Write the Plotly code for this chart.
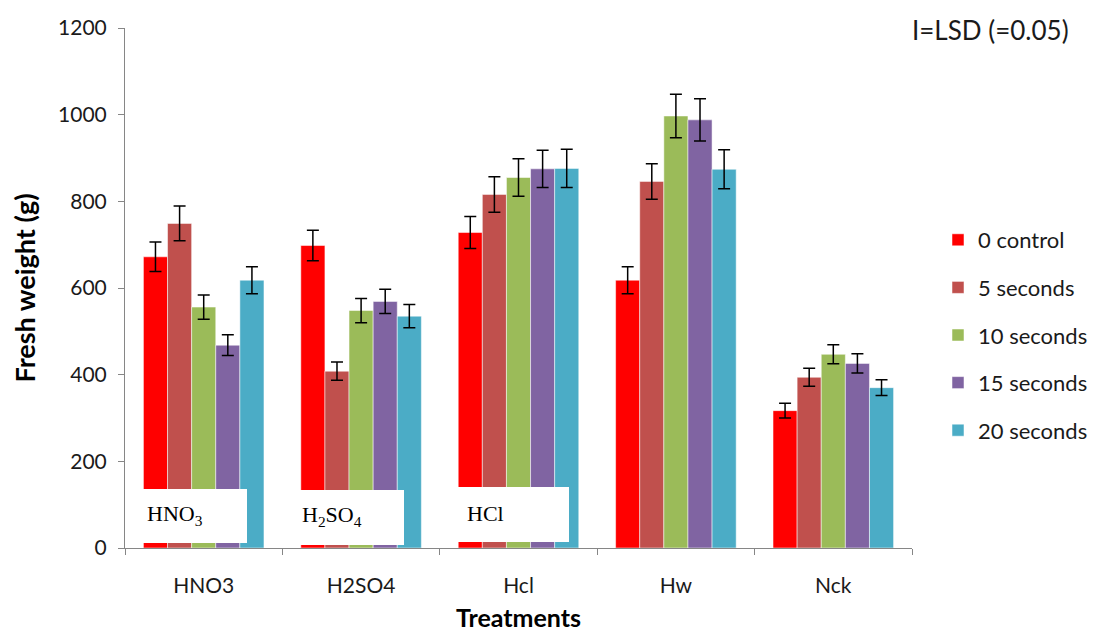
import plotly.graph_objects as go

categories = ["HNO3", "H2SO4", "Hcl", "Hw", "Nck"]
series_names = ["0 control", "5 seconds", "10 seconds", "15 seconds", "20 seconds"]
colors = ["#FF0000", "#C0504D", "#9BBB59", "#8064A2", "#4BACC6"]

control_0 = [672, 698, 728, 618, 317]
sec_5 = [749, 408, 816, 846, 394]
sec_10 = [556, 548, 855, 997, 447]
sec_15 = [468, 569, 875, 988, 426]
sec_20 = [618, 535, 876, 874, 370]

err_0 = [34, 35, 37, 31, 17]
err_5 = [40, 21, 41, 41, 21]
err_10 = [28, 28, 43, 50, 22]
err_15 = [24, 28, 43, 49, 22]
err_20 = [31, 27, 44, 45, 18]

values = [control_0, sec_5, sec_10, sec_15, sec_20]
errors = [err_0, err_5, err_10, err_15, err_20]

fig = go.Figure()
for i, (name, vals, errs, col) in enumerate(zip(series_names, values, errors, colors)):
    fig.add_trace(go.Bar(
        x=categories, y=vals, name=name,
        marker=dict(color=col, line=dict(color="rgba(255,255,255,0.5)", width=1)),
        error_y=dict(type="data", array=errs, visible=True, color="#000000",
                     thickness=1.5, width=6),
        legendgroup=f"g{i}",
    ))

# the page body adds an 8px offset, so the figure is drawn 8px smaller
OFF = 8
W, H = 1099 - OFF, 632 - OFF
PL, PR, PT, PB = 125 - OFF, 912 - OFF, 28 - OFF, 548 - OFF

axis_color = "#868686"
font_fam = "Lato, Carlito, sans-serif"
tick_font = dict(family=font_fam, size=21, color="#1a1a1a")

fig.update_layout(
    width=W, height=H,
    margin=dict(l=PL, r=W - PR, t=PT, b=H - PB, autoexpand=False),
    paper_bgcolor="white", plot_bgcolor="white",
    barmode="group", bargap=0.234, bargroupgap=0,
    showlegend=True,
    legend=dict(
        x=(938 - OFF) / W, xref="container", xanchor="left",
        y=1 - (219 - OFF) / H, yref="container", yanchor="top",
        font=dict(family=font_fam, size=22, color="#1a1a1a"),
        tracegroupgap=16, itemwidth=30,
        bgcolor="rgba(0,0,0,0)",
    ),
    xaxis=dict(
        showline=True, linecolor=axis_color, linewidth=1,
        ticks="outside", tickson="boundaries", ticklen=6, tickcolor=axis_color,
        tickfont=tick_font, ticklabelstandoff=19,
        title=dict(text="<b>Treatments</b>",
                   font=dict(family=font_fam, size=25, color="#000"),
                   standoff=26),
        showgrid=False,
    ),
    yaxis=dict(
        range=[0, 1200], dtick=200,
        showline=True, linecolor=axis_color, linewidth=1,
        ticks="outside", ticklen=6, tickcolor=axis_color,
        tickfont=tick_font, ticklabelstandoff=7,
        title=dict(text="<b>Fresh weight (g)</b>",
                   font=dict(family=font_fam, size=27, color="#000"),
                   standoff=20),
        showgrid=False, zeroline=False,
    ),
)

# white label boxes drawn over the bars (positions in screenshot pixels)
def px_x(p):
    return (p - 125) / 787

def px_y(p):
    return (548 - p) / 520

boxes = [(125, 247, 489, 543), (292, 404, 490, 545), (450, 569, 487, 542)]
for x0, x1, y0, y1 in boxes:
    fig.add_shape(type="rect", xref="paper", yref="paper",
                  x0=px_x(x0), x1=px_x(x1), y0=px_y(y1), y1=px_y(y0),
                  fillcolor="white", line=dict(width=0), layer="above")

labels = [("HNO<sub>3</sub>", 145, 515), ("H<sub>2</sub>SO<sub>4</sub>", 300, 516), ("HCl", 465, 513)]
for txt, x, y in labels:
    fig.add_annotation(text=txt, xref="paper", yref="paper",
                       x=px_x(x), y=px_y(y), xanchor="left", yanchor="middle",
                       showarrow=False,
                       font=dict(family="Liberation Serif, Times New Roman, serif",
                                 size=22, color="#000"))

fig.add_annotation(text="I=LSD (=0.05)", xref="paper", yref="paper",
                   x=px_x(1071), y=px_y(30), xanchor="right", yanchor="middle",
                   showarrow=False,
                   font=dict(family=font_fam, size=26, color="#1a1a1a"))

fig.write_html("out.html")
